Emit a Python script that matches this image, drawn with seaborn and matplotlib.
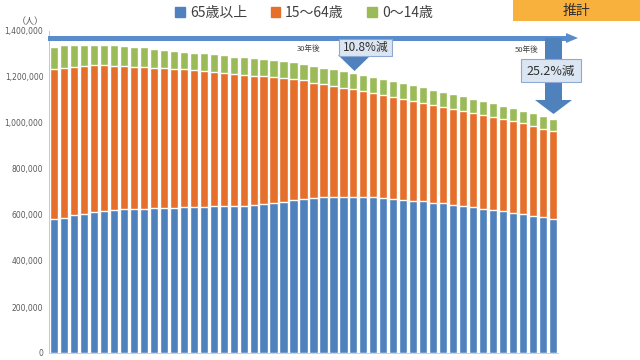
import matplotlib
matplotlib.use("Agg")
import matplotlib.pyplot as plt
import matplotlib.patches as mpatches
import numpy as np
import pandas as pd
import seaborn as sns

# ---- data (persons) ----
years = list(range(2015, 2066))
age65_plus = [583, 587, 598, 605, 612, 617, 621, 624, 626, 628,
              630, 631, 632, 633, 634, 636, 637, 638, 639, 641,
              644, 648, 653, 658, 664, 669, 674, 677, 679, 680,
              680, 679, 678, 675, 671, 667, 663, 659, 654, 650,
              645, 640, 634, 628, 622, 616, 609, 603, 597, 590, 583]
total_15_64_top = [1233, 1239, 1245, 1249, 1251, 1251, 1249, 1248, 1245, 1243,
                   1241, 1238, 1235, 1233, 1229, 1226, 1222, 1219, 1215, 1210,
                   1206, 1203, 1199, 1197, 1191, 1185, 1175, 1168, 1161, 1154,
                   1147, 1138, 1130, 1122, 1113, 1104, 1096, 1089, 1080, 1071,
                   1062, 1054, 1045, 1036, 1028, 1019, 1009, 999, 987, 975, 965]
total_all = [1332, 1338, 1339, 1341, 1341, 1339, 1338, 1335, 1332, 1329,
             1323, 1317, 1315, 1310, 1306, 1303, 1299, 1294, 1288, 1286,
             1281, 1278, 1273, 1268, 1265, 1257, 1249, 1241, 1233, 1226,
             1219, 1209, 1201, 1191, 1183, 1174, 1165, 1155, 1145, 1135,
             1125, 1116, 1106, 1096, 1085, 1075, 1064, 1052, 1042, 1030, 1019]
age15_64 = [(t - b) * 1000 for t, b in zip(total_15_64_top, age65_plus)]
age0_14 = [(a - t) * 1000 for a, t in zip(total_all, total_15_64_top)]
age65_plus = [v * 1000 for v in age65_plus]

legend_labels = ["65歳以上", "15〜64歳", "0〜14歳"]
yticks = [0, 200000, 400000, 600000, 800000, 1000000, 1200000, 1400000]

c_blue = "#4f81bd"
c_orange = "#e66f2b"
c_green = "#9bbb59"

df = pd.DataFrame({
    "year": [str(y) for y in years],
    "a65": age65_plus,
    "a15": age15_64,
    "a0": age0_14,
})
df["mid"] = df["a65"] + df["a15"]
df["tot"] = df["mid"] + df["a0"]

sns.set_style("white")
plt.rcParams["font.family"] = ["Noto Sans CJK JP", "DejaVu Sans"]

W, H = 640, 360
fig = plt.figure(figsize=(6.4, 3.6), dpi=100)
ax = fig.add_axes([49 / W, 1 - 353 / H, (558 - 49) / W, (353 - 31) / H])

order = df["year"].tolist()
sns.barplot(data=df, x="year", y="tot", color=c_green, saturation=1, width=0.82,
            order=order, errorbar=None, ax=ax)
sns.barplot(data=df, x="year", y="mid", color=c_orange, saturation=1, width=0.82,
            order=order, errorbar=None, ax=ax)
sns.barplot(data=df, x="year", y="a65", color=c_blue, saturation=1, width=0.82,
            order=order, errorbar=None, ax=ax)

ax.set_xlim(-0.45, len(years) - 0.55)
ax.set_ylim(0, 1400000)
ax.set_yticks(yticks)
ax.set_yticklabels([f"{v:,}" for v in yticks], fontsize=5.5, color="#595959",
                   family=["DejaVu Sans"])
ax.set_xticks(np.arange(len(years) + 1) - 0.5)
ax.set_xticklabels([])
ax.tick_params(axis="x", length=2, color="#d9c9a0", width=0.6)
ax.tick_params(axis="y", length=2, color="#bfbfbf", width=0.6, pad=2)
ax.set_xlabel("")
ax.set_ylabel("")
for s in ["top", "right"]:
    ax.spines[s].set_visible(False)
ax.spines["left"].set_color("#bfbfbf")
ax.spines["left"].set_linewidth(0.6)
ax.spines["bottom"].set_color("#d9c9a0")
ax.spines["bottom"].set_linewidth(0.6)

# unit label
fig.text(30 / W, 1 - 22 / H, "（人）", fontsize=6.5, color="#595959", ha="center", va="center")

# legend
handles = [mpatches.Patch(color=c) for c in (c_blue, c_orange, c_green)]
fig.legend(handles, legend_labels, loc="center", bbox_to_anchor=(304 / W, 1 - 13 / H),
           ncol=3, frameon=False, fontsize=10, handlelength=0.7, handleheight=0.7,
           handletextpad=0.35, columnspacing=1.7, labelcolor="#404040")

tf = fig.transFigure


def P(x, y):
    return (x / W, 1 - y / H)


# "推計" box
fig.add_artist(mpatches.Rectangle(P(513, 21), 127 / W, 21 / H, transform=tf,
                                  facecolor="#f7b13c", edgecolor="none"))
fig.text(576 / W, 1 - 11 / H, "推計", fontsize=10, color="#303030", ha="center", va="center")

# long horizontal arrow
arrow_col = "#5a8ccb"
fig.add_artist(mpatches.Rectangle(P(48, 40.5), (568 - 48) / W, 5 / H, transform=tf,
                                  facecolor=arrow_col, edgecolor="none"))
fig.add_artist(mpatches.Polygon([P(566, 33), P(578, 38), P(566, 43)], closed=True,
                                transform=tf, facecolor=arrow_col, edgecolor="none"))

# 30年後 callout
fig.text(309 / W, 1 - 49 / H, "30年後", fontsize=5.5, color="#404040", ha="center", va="center")
fig.add_artist(mpatches.Polygon([P(338, 55), P(371, 55), P(354.5, 71)], closed=True,
                                transform=tf, facecolor=c_blue, edgecolor="none"))
fig.add_artist(mpatches.Rectangle(P(339, 56), 53 / W, 17 / H, transform=tf,
                                  facecolor="#dce6f2", edgecolor="#8eaad4", linewidth=0.8))
fig.text(365.5 / W, 1 - 47.5 / H, "10.8%減", fontsize=8.5, color="#303030",
         ha="center", va="center")

# 50年後 callout
fig.text(527 / W, 1 - 50 / H, "50年後", fontsize=5.5, color="#404040", ha="center", va="center")
fig.add_artist(mpatches.Rectangle(P(545, 101), 17 / W, (101 - 38) / H, transform=tf,
                                  facecolor=c_blue, edgecolor="none"))
fig.add_artist(mpatches.Polygon([P(535, 100), P(572, 100), P(553.5, 114)], closed=True,
                                transform=tf, facecolor=c_blue, edgecolor="none"))
fig.add_artist(mpatches.Rectangle(P(521, 82), 60 / W, 23 / H, transform=tf,
                                  facecolor="#dce6f2", edgecolor="#8eaad4", linewidth=0.8))
fig.text(551 / W, 1 - 71 / H, "25.2%減", fontsize=9, color="#303030",
         ha="center", va="center")

fig.savefig("out.png", dpi=100)
